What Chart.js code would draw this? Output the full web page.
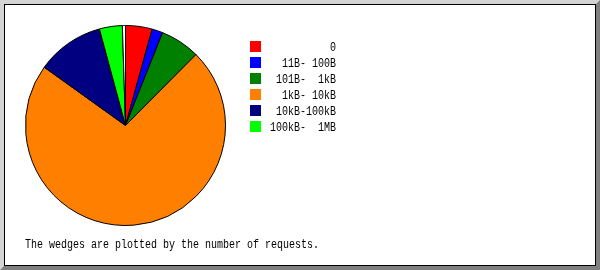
<!DOCTYPE html>
<html>
<head>
<meta charset="utf-8">
<script src="https://cdn.jsdelivr.net/npm/chart.js@4/dist/chart.umd.min.js"></script>
<style>
  body { margin: 0; background: #fff; }
  #frame {
    width: 600px; height: 270px; box-sizing: border-box;
    border-style: solid; border-width: 4px;
    border-color: #d4d4d4 #808080 #808080 #d4d4d4;
  }
  #inner { width: 590px; height: 260px; border: 1px solid #000; background: #fff; }
  canvas { display: block; }
</style>
</head>
<body>
<div id="frame"><div id="inner"><canvas id="pie" width="590" height="260"></canvas></div></div>
<script>
  const sizeBands = ["0", "11B- 100B", "101B-  1kB", "1kB- 10kB", "10kB-100kB", "100kB-  1MB"];
  const requestShare = [4.3, 1.75, 6.4, 72.45, 10.9, 3.7];
  const bandColours = ["#ff0000", "#0000ff", "#008000", "#ff8000", "#000080", "#00ff00"];
  // the thin white sliver left over at the top of the pie
  const unplotted = 0.5;
  const caption = "The wedges are plotted by the number of requests.";

  // draw fixed-width text squeezed to 6px per char, like the old bitmap font
  function monoText(ctx, text, x, y, align) {
    ctx.save();
    ctx.font = "12px 'Liberation Mono', monospace";
    const sx = 6 / ctx.measureText("0").width;
    ctx.translate(x, y);
    ctx.scale(sx, 1);
    ctx.textAlign = align;
    ctx.textBaseline = "alphabetic";
    ctx.fillStyle = "#000";
    ctx.fillText(text, 0, 0);
    ctx.restore();
  }

  const legendAndCaption = {
    id: "legendAndCaption",
    afterDraw(chart) {
      const ctx = chart.ctx;
      sizeBands.forEach((label, i) => {
        const y = 36 + i * 16;
        ctx.fillStyle = bandColours[i];
        ctx.fillRect(245, y, 11, 11);
        monoText(ctx, label, 331, y + 10, "right");
      });
      monoText(ctx, caption, 20, 243, "left");
    }
  };

  new Chart(document.getElementById("pie"), {
    type: "pie",
    data: {
      labels: [...sizeBands, ""],
      datasets: [{
        data: [...requestShare, unplotted],
        backgroundColor: [...bandColours, "#ffffff"],
        borderColor: "#000",
        borderWidth: 1
      }]
    },
    options: {
      responsive: false,
      animation: false,
      events: [],
      layout: { padding: { left: 20, top: 20, right: 369, bottom: 39 } },
      plugins: {
        legend: { display: false },
        tooltip: { enabled: false }
      }
    },
    plugins: [legendAndCaption]
  });
</script>
</body>
</html>
